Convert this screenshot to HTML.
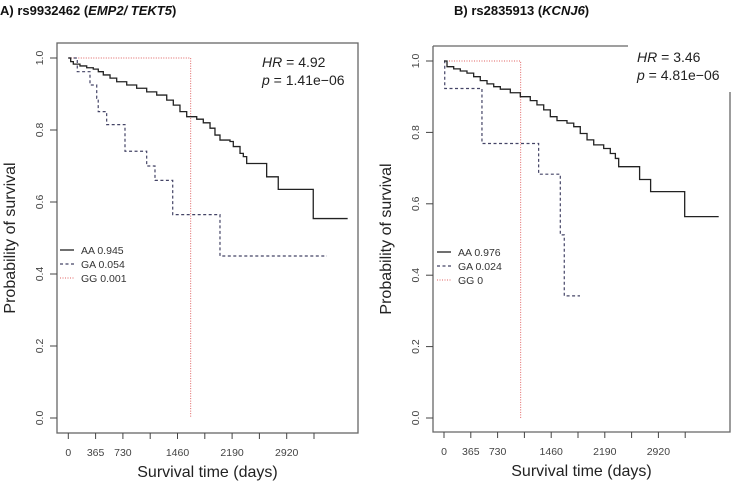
<!DOCTYPE html>
<html><head><meta charset="utf-8"><style>
body{margin:0;background:#fff}
svg{display:block;font-family:"Liberation Sans",sans-serif}
</style></head><body>
<svg id="chart" width="734" height="489" viewBox="0 0 734 489" xmlns="http://www.w3.org/2000/svg">
<text x="0" y="15" font-size="13" font-weight="bold" fill="#111">A) rs9932462 (<tspan font-style="italic">EMP2/ TEKT5</tspan>)</text>
<text x="454" y="15" font-size="13" font-weight="bold" fill="#111">B) rs2835913 (<tspan font-style="italic">KCNJ6</tspan>)</text>
</svg>
<script>
// Panel A data
const aTicks = [0,365,730,1095,1460,1825,2190,2555,2920,3285];
const aTickLabels = ["0","365","730","","1460","","2190","","2920",""];
const yTicks = [0,0.2,0.4,0.6,0.8,1.0];
const yTickLabels = ["0.0","0.2","0.4","0.6","0.8","1.0"];
const aAAtimes = [0,32,67,156,246,334,401,468,558,647,781,914,1048,1182,1316,1404,1493,1583,1717,1805,1895,1961,2028,2162,2206,2296,2340,2385,2652,2807,3275,3735];
const aAAsurv  = [1,0.990,0.983,0.978,0.973,0.969,0.962,0.953,0.944,0.934,0.925,0.916,0.906,0.897,0.883,0.869,0.851,0.837,0.830,0.820,0.805,0.786,0.772,0.768,0.754,0.735,0.726,0.707,0.670,0.635,0.554,0.554];
const aGAtimes = [0,120,290,380,400,513,758,1048,1159,1396,2028,3459];
const aGAsurv  = [1,0.962,0.925,0.888,0.851,0.815,0.741,0.70,0.66,0.565,0.45,0.45];
const aGGtimes = [0,1636];
const aGGsurv  = [1,0];
// Panel B data
const bAAtimes = [0,41,132,222,313,404,494,586,677,767,903,1039,1175,1266,1358,1448,1539,1675,1767,1856,1948,2039,2175,2265,2334,2379,2664,2814,3278,3741];
const bAAsurv  = [1,0.984,0.978,0.972,0.966,0.956,0.945,0.936,0.928,0.921,0.911,0.900,0.889,0.877,0.863,0.844,0.833,0.826,0.816,0.797,0.779,0.765,0.755,0.741,0.727,0.704,0.668,0.634,0.564,0.564];
const bGAtimes = [0,10,517,1289,1584,1638,1852];
const bGAsurv  = [1,0.923,0.769,0.683,0.513,0.342,0.342];
const bGGtimes = [0,1044];
const bGGsurv  = [1,0];

const svg = document.getElementById('chart');
const NS = 'http://www.w3.org/2000/svg';
function mk(tag, attrs){const e=document.createElementNS(NS,tag);for(const k in attrs)e.setAttribute(k,attrs[k]);svg.appendChild(e);return e;}

function panel(p){
  const xs=d=>p.x0+d*p.pxPerTick/365, ys=s=>p.y0-s*p.yRange;
  let b;
  if(p.box==='full'){
    b=mk('rect',{x:p.L,y:p.T,width:p.R-p.L,height:p.B-p.T,fill:'none',stroke:'#666','stroke-width':1.3});
  } else {
    b=mk('path',{d:`M${p.L},${p.T}H${p.topEnd}M${p.L},${p.T}V${p.B}H${p.R}V${p.rightTop}`,fill:'none',stroke:'#666','stroke-width':1.3});
  }
  
  
  aTicks.forEach((t,i)=>{
    const l=mk('line',{x1:xs(t),x2:xs(t),y1:p.B,y2:p.B+6,stroke:'#444'});
    
    
    if(aTickLabels[i]){
      const tx=mk('text',{x:xs(t),y:p.B+23,'font-size':10.5,'text-anchor':'middle',fill:'#444'});
      tx.textContent=aTickLabels[i];
      
      
    }
  });
  yTicks.forEach((t,i)=>{
    const l=mk('line',{x1:p.L-7,x2:p.L,y1:ys(t),y2:ys(t),stroke:'#444'});
    
    
    const tx=mk('text',{x:0,y:0,'font-size':10.5,'text-anchor':'middle',fill:'#444',transform:`translate(${p.L-14},${ys(t)}) rotate(-90)`});
    tx.textContent=yTickLabels[i];
    
    
  });
  const xt=mk('text',{x:(p.L+p.R)/2,y:p.B+44,'font-size':16,'text-anchor':'middle',fill:'#222'});
  xt.textContent='Survival time (days)';
  
  
  const yt=mk('text',{x:0,y:0,'font-size':16,'text-anchor':'middle',fill:'#222',transform:`translate(${p.L-42},${(p.T+p.B)/2}) rotate(-90)`});
  yt.textContent='Probability of survival';
  
  
  function step(times,surv,style,name){
    let d=`M${xs(times[0])},${ys(surv[0])}`;
    for(let i=1;i<times.length;i++){d+=`H${xs(times[i])}V${ys(surv[i])}`;}
    const pa=mk('path',Object.assign({d:d,fill:'none'},style));
    
    
  }
  const sAA={stroke:'#222','stroke-width':1.3};
  const sGA={stroke:'#446','stroke-width':1.2,'stroke-dasharray':'3,2.5'};
  const sGG={stroke:'#e06060','stroke-width':1,'stroke-dasharray':'1,1.5'};
  step(p.gg[0],p.gg[1],sGG,p.id+'-gg-curve');
  step(p.ga[0],p.ga[1],sGA,p.id+'-ga-curve');
  step(p.aa[0],p.aa[1],sAA,p.id+'-aa-curve');
  const h=mk('text',{x:p.hrX,y:p.hrY,'font-size':14,fill:'#222'});
  h.innerHTML=`<tspan font-style="italic">HR</tspan> = ${p.hr}`;
  
  
  const pv=mk('text',{x:p.hrX,y:p.hrY+18,'font-size':14,fill:'#222'});
  pv.innerHTML=`<tspan font-style="italic">p</tspan> = ${p.pval}`;
  
  
  const st=[sAA,sGA,sGG];
  p.leg.forEach((lab,i)=>{
    const y=p.legY+i*14;
    const l=mk('line',Object.assign({x1:p.legX,x2:p.legX+14,y1:y,y2:y},st[i]));
    
    
    const t=mk('text',{x:p.legX+21,y:y+4,'font-size':10.5,fill:'#333'});
    t.textContent=lab;
    
    
  });
}
panel({id:'panel-a',L:57,T:43,R:358,B:433,x0:68.3,pxPerTick:27.3,y0:418,yRange:360,box:'full',
  aa:[aAAtimes,aAAsurv],ga:[aGAtimes,aGAsurv],gg:[aGGtimes,aGGsurv],
  hrX:262,hrY:67,hr:'4.92',pval:'1.41e\u221206',leg:['AA 0.945','GA 0.054','GG 0.001'],legX:60,legY:250});
panel({id:'panel-b',L:433,T:46,R:730,B:432,x0:444,pxPerTick:26.8,y0:418,yRange:357,box:'open',topEnd:628,rightTop:92,
  aa:[bAAtimes,bAAsurv],ga:[bGAtimes,bGAsurv],gg:[bGGtimes,bGGsurv],
  hrX:637,hrY:62,hr:'3.46',pval:'4.81e\u221206',leg:['AA 0.976','GA 0.024','GG 0'],legX:437,legY:252});
</script>
</body></html>
